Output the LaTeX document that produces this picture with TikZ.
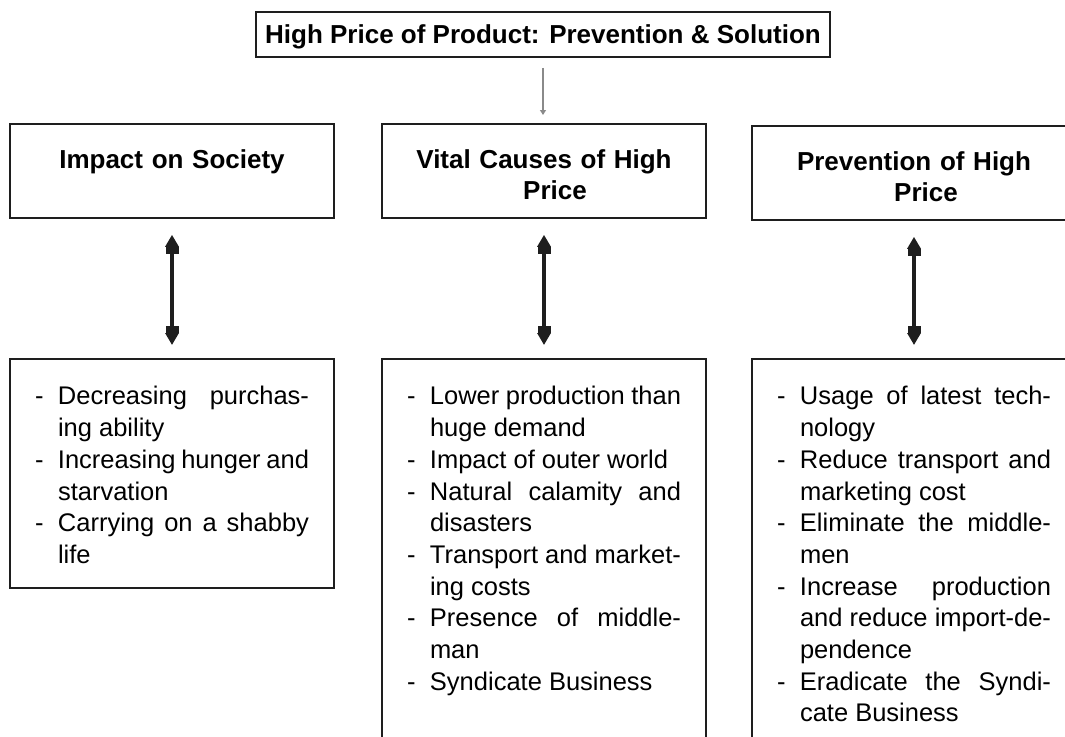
\documentclass[tikz,border=0pt]{standalone}
\usepackage{fontspec}
\setmainfont{Liberation Sans}
\usetikzlibrary{arrows.meta}
\definecolor{ink}{HTML}{1E1E1E}
\definecolor{pale}{HTML}{8A8A8A}
\newcommand{\itm}[1]{\hangindent=23pt\hangafter=1\noindent\makebox[23pt][l]{-}#1\par}
\tikzset{
  titlebox/.style={draw=ink, line width=1.8pt, inner sep=0pt, minimum width=574pt,
    text height=31pt, text depth=14pt, font=\fontsize{26}{31}\bfseries\selectfont},
  headbox/.style={draw=ink, line width=1.8pt, inner sep=0pt, anchor=north,
    text width=324pt, align=center, text height=44.5pt, text depth=49.5pt,
    font=\fontsize{26}{31}\bfseries\selectfont},
  listbox/.style={draw=ink, line width=1.8pt, inner sep=0pt, anchor=north,
    text width=274pt, minimum width=324pt, align=justify, text height=46pt,
    font=\fontsize{25.5}{31.7}\selectfont,
    execute at begin node={\hyphenpenalty=10000 \exhyphenpenalty=10000 }},
  link/.style={draw=pale, line width=2.4pt, shorten <=10pt, shorten >=8pt,
    -{Triangle[length=5pt,width=6pt]}},
  both/.style={draw=ink, line width=4pt, shorten <=16pt, shorten >=13pt,
    {Triangle[length=12pt,width=13pt]Rectangle[length=7pt,width=13pt]}-{Rectangle[length=7pt,width=13pt]Triangle[length=12pt,width=13pt]}},
}
\begin{document}
\begin{tikzpicture}[x=1pt,y=-1pt]
  \useasboundingbox (0,0) rectangle (1065,736);
  \node[titlebox] (title) at (543,34.5) {High Price of Product: Prevention \& Solution};
  % headings
  \node[headbox] (imp) at (172,123) {Impact on Society};
  \node[headbox] (cau) at (544,123) {Vital Causes of High\\\hspace*{22pt}Price};
  \node[headbox] (pre) at (914,125) {Prevention of High\\\hspace*{24pt}Price};
  % lists
  \node[listbox, text depth=183pt] (impL) at (172,358) {%
    \itm{Decreasing purchas-\linebreak ing ability}%
    \itm{Increasing hunger and\linebreak starvation}%
    \itm{Carrying on a shabby\linebreak life}};
  \node[listbox, text depth=420pt] (cauL) at (544,358) {%
    \itm{Lower production than\linebreak huge demand}%
    \itm{Impact of outer world}%
    \itm{Natural calamity and\linebreak disasters}%
    \itm{Transport and market-\linebreak ing costs}%
    \itm{Presence of middle-\linebreak man}%
    \itm{Syndicate Business}};
  \node[listbox, text depth=420pt] (preL) at (914,358) {%
    \itm{Usage of latest tech-\linebreak nology}%
    \itm{Reduce transport and\linebreak marketing cost}%
    \itm{Eliminate the middle-\linebreak men}%
    \itm{Increase production\linebreak and reduce import-de-\linebreak pendence}%
    \itm{Eradicate the Syndi-\linebreak cate Business}};
  \draw[link] (title.south) -- (title.south |- cau.north);
  \foreach \X in {imp,cau,pre}
    \draw[both] (\X) -- (\X L);
\end{tikzpicture}
\end{document}
